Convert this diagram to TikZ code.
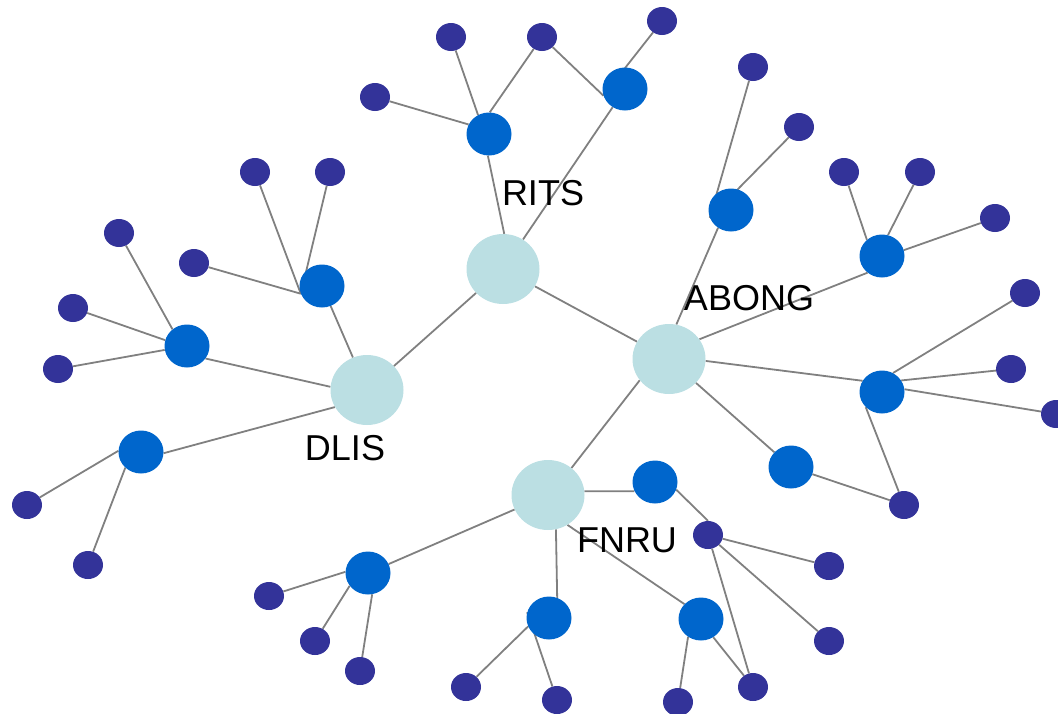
\documentclass[tikz,border=0pt]{standalone}
\usepackage{fontspec}
\setmainfont{Liberation Sans}
\usetikzlibrary{shapes.geometric,backgrounds}
\definecolor{hubcol}{RGB}{187,223,227}
\definecolor{midcol}{RGB}{0,102,204}
\definecolor{leafcol}{RGB}{51,51,153}
\definecolor{linkcol}{RGB}{128,128,128}

\begin{document}
\begin{tikzpicture}[x=1pt, y=-1pt,
        hub/.style={ellipse, fill=hubcol, minimum width=73pt, minimum height=70pt, inner sep=0pt},
        mid/.style={ellipse, fill=midcol, minimum width=45pt, minimum height=43pt, inner sep=0pt},
        leaf/.style={ellipse, fill=leafcol, minimum width=30pt, minimum height=28pt, inner sep=0pt},
        link/.style={draw=linkcol, line width=1.8pt},
        lbl/.style={inner sep=0pt, font=\fontsize{36}{40}\selectfont}]
        \useasboundingbox (0,0) rectangle (1058,713);

        % hubs
        \node[hub] (rits) at (503,269) {};
        \node[hub] (dlis) at (367,390) {};
        \node[hub] (abong) at (669,359) {};
        \node[hub] (fnru) at (548,495) {};
        \node[lbl] (lrits) at (543,193) {RITS};
        \node[lbl] (ldlis) at (345,448) {DLIS};
        \node[lbl] (labong) at (749,298) {ABONG};
        \node[lbl] (lfnru) at (627,540) {FNRU};

        % RITS side
        \node[mid] (r1) at (489,134) {};
        \node[mid] (r2) at (625,89) {};
        \node[leaf] (r1a) at (451,37) {};
        \node[leaf] (r1b) at (375,97) {};
        \node[leaf] (r12) at (542,37) {};
        \node[leaf] (r2a) at (662,21) {};

        % DLIS side
        \node[mid] (d1) at (322,286) {};
        \node[mid] (d2) at (187,346) {};
        \node[mid] (d3) at (141,452) {};
        \node[leaf] (d1a) at (255,172) {};
        \node[leaf] (d1b) at (330,172) {};
        \node[leaf] (d1c) at (194,263) {};
        \node[leaf] (d2a) at (119,233) {};
        \node[leaf] (d2b) at (73,308) {};
        \node[leaf] (d2c) at (58,369) {};
        \node[leaf] (d3a) at (27,505) {};
        \node[leaf] (d3b) at (88,565) {};

        % ABONG side
        \node[mid] (a1) at (731,210) {};
        \node[mid] (a2) at (882,256) {};
        \node[mid] (a3) at (882,392) {};
        \node[mid] (a4) at (791,467) {};
        \node[leaf] (a1a) at (753,67) {};
        \node[leaf] (a1b) at (799,127) {};
        \node[leaf] (a2a) at (844,172) {};
        \node[leaf] (a2b) at (920,172) {};
        \node[leaf] (a2c) at (995,218) {};
        \node[leaf] (a3a) at (1025,293) {};
        \node[leaf] (a3b) at (1011,369) {};
        \node[leaf] (a3c) at (1056,414) {};
        \node[leaf] (a34) at (904,505) {};

        % FNRU side
        \node[mid] (f1) at (655,482) {};
        \node[mid] (f2) at (701,619) {};
        \node[mid] (f3) at (549,618) {};
        \node[mid] (f4) at (368,573) {};
        \node[leaf] (f1a) at (708,535) {};
        \node[leaf] (f1b) at (829,566) {};
        \node[leaf] (f1c) at (829,641) {};
        \node[leaf] (f12) at (753,687) {};
        \node[leaf] (f2a) at (678,702) {};
        \node[leaf] (f3a) at (466,687) {};
        \node[leaf] (f3b) at (557,700) {};
        \node[leaf] (f4a) at (269,596) {};
        \node[leaf] (f4b) at (315,641) {};
        \node[leaf] (f4c) at (360,671) {};

        \begin{pgfonlayer}{background}
        \draw[link] (rits) -- (dlis);
        \draw[link] (rits) -- (abong);
        \draw[link] (abong.216) -- (fnru.49);

        \draw[link] (rits.88) -- (r1.-93);
        \draw[link] (rits) -- (r2);
        \draw[link] (r1a) -- (r1.120);
        \draw[link] (r1b) -- (r1.155);
        \draw[link] (r12) -- (r1.88);
        \draw[link] (r12) -- (r2.197);
        \draw[link] (r2a) -- (r2.197);

        \draw[link] (dlis) -- (d1);
        \draw[link] (dlis.175) -- (d2.-34);
        \draw[link] (dlis.208) -- (d3.-3);
        \draw[link] (d1a) -- (d1.200);
        \draw[link] (d1b) -- (d1.200);
        \draw[link] (d1c) -- (d1.200);
        \draw[link] (d2a) -- (d2.131);
        \draw[link] (d2b) -- (d2.165);
        \draw[link] (d2c) -- (d2.190);
        \draw[link] (d3a) -- (d3.177);
        \draw[link] (d3b) -- (d3.225);

        \draw[link] (abong.78) -- (a1.234);
        \draw[link] (abong.33) -- (a2.229);
        \draw[link] (abong.-3) -- (a3.150);
        \draw[link] (abong) -- (a4);
        \draw[link] (a1a) -- (a1.200);
        \draw[link] (a1b) -- (a1.200);
        \draw[link] (a2a) -- (a2.133);
        \draw[link] (a2b) -- (a2.74);
        \draw[link] (a2c) -- (a2.15);
        \draw[link] (a3a) -- (a3.60);
        \draw[link] (a3b) -- (a3.31);
        \draw[link] (a3c) -- (a3.7);
        \draw[link] (a34) -- (a3.223);
        \draw[link] (a34) -- (a4);

        \draw[link] (fnru.6) -- (f1.204);
        \draw[link] (fnru.-57) -- (f2.138);
        \draw[link] (fnru.-77) -- (f3.68);
        \draw[link] (fnru) -- (f4);
        \draw[link] (f1.-20) -- (f1a.north);
        \draw[link] (f1a) -- (f1b);
        \draw[link] (f1a) -- (f1c);
        \draw[link] (f1a) -- (f12);
        \draw[link] (f2a) -- (f2.234);
        \draw[link] (f12) -- (f2.-56);
        \draw[link] (f3a) -- (f3.202);
        \draw[link] (f3b) -- (f3.165);
        \draw[link] (f4a) -- (f4.177);
        \draw[link] (f4b) -- (f4.215);
        \draw[link] (f4c) -- (f4.-79);
        \end{pgfonlayer}
    \end{tikzpicture}
\end{document}
